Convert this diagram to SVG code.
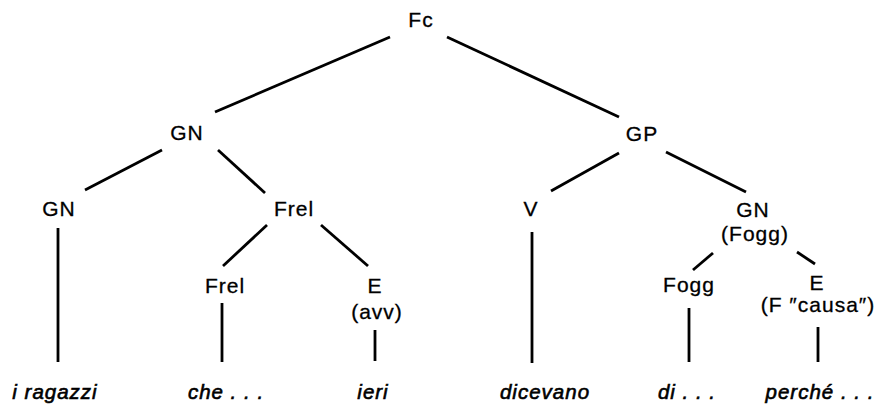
<svg xmlns="http://www.w3.org/2000/svg" width="882" height="406" viewBox="0 0 882 406">
  <style>
    .lbl { font-family: "Liberation Sans", Arial, sans-serif; font-size: 21px; letter-spacing: 1px; fill: #000; stroke: #000; stroke-width: 0.3; text-anchor: middle; }
    .leaf { font-family: "Liberation Sans", Arial, sans-serif; font-size: 20.5px; font-style: italic; letter-spacing: 1px; fill: #000; stroke: #000; stroke-width: 0.6; text-anchor: middle; }
    .edge { stroke: #000; stroke-width: 2.8; stroke-linecap: butt; fill: none; }
  </style>
  <rect width="882" height="406" fill="#fff"/>

  <!-- tree branches -->
  <g id="connectors">
    <line class="edge" x1="390" y1="37" x2="215" y2="112"/>
    <line class="edge" x1="447" y1="37" x2="619" y2="117"/>
    <line class="edge" x1="162" y1="150" x2="85" y2="190"/>
    <line class="edge" x1="218" y1="150" x2="265" y2="193"/>
    <line class="edge" x1="619" y1="153" x2="551" y2="191"/>
    <line class="edge" x1="666" y1="152" x2="746" y2="192"/>
    <line class="edge" x1="58" y1="228" x2="58" y2="362"/>
    <line class="edge" x1="267" y1="225" x2="223" y2="266"/>
    <line class="edge" x1="321" y1="225" x2="368" y2="266"/>
    <line class="edge" x1="222" y1="303" x2="222" y2="362"/>
    <line class="edge" x1="375" y1="330" x2="375" y2="361"/>
    <line class="edge" x1="532" y1="232" x2="532" y2="363"/>
    <line class="edge" x1="713" y1="253" x2="693" y2="270"/>
    <line class="edge" x1="797" y1="252" x2="815" y2="264"/>
    <line class="edge" x1="689" y1="308" x2="689" y2="362"/>
    <line class="edge" x1="818" y1="327" x2="818" y2="362"/>
  </g>

  <!-- category nodes -->
  <g id="n-fc"><text class="lbl" x="421" y="27">Fc</text></g>
  <g id="n-gn1"><text class="lbl" x="187" y="140">GN</text></g>
  <g id="n-gp"><text class="lbl" x="642" y="141">GP</text></g>
  <g id="n-gn2"><text class="lbl" x="59" y="216">GN</text></g>
  <g id="n-frel1"><text class="lbl" x="294" y="216">Frel</text></g>
  <g id="n-v"><text class="lbl" x="531" y="216">V</text></g>
  <g id="n-gn3">
    <text class="lbl" x="753" y="217">GN</text>
    <text class="lbl" x="755" y="241">(Fogg)</text>
  </g>
  <g id="n-frel2"><text class="lbl" x="225" y="293">Frel</text></g>
  <g id="n-e1">
    <text class="lbl" x="375" y="293">E</text>
    <text class="lbl" x="377" y="319">(avv)</text>
  </g>
  <g id="n-fogg"><text class="lbl" x="689" y="292">Fogg</text></g>
  <g id="n-e2">
    <text class="lbl" x="817" y="290">E</text>
    <text class="lbl" x="818" y="312">(F ″causa″)</text>
  </g>

  <!-- terminal words -->
  <g id="w-ragazzi"><text class="leaf" x="55" y="399">i ragazzi</text></g>
  <g id="w-che"><text class="leaf" x="226" y="399">che . . .</text></g>
  <g id="w-ieri"><text class="leaf" x="373" y="399">ieri</text></g>
  <g id="w-dicevano"><text class="leaf" x="545" y="399">dicevano</text></g>
  <g id="w-di"><text class="leaf" x="687" y="399">di . . .</text></g>
  <g id="w-perche"><text class="leaf" x="820" y="399">perché . . .</text></g>
</svg>
